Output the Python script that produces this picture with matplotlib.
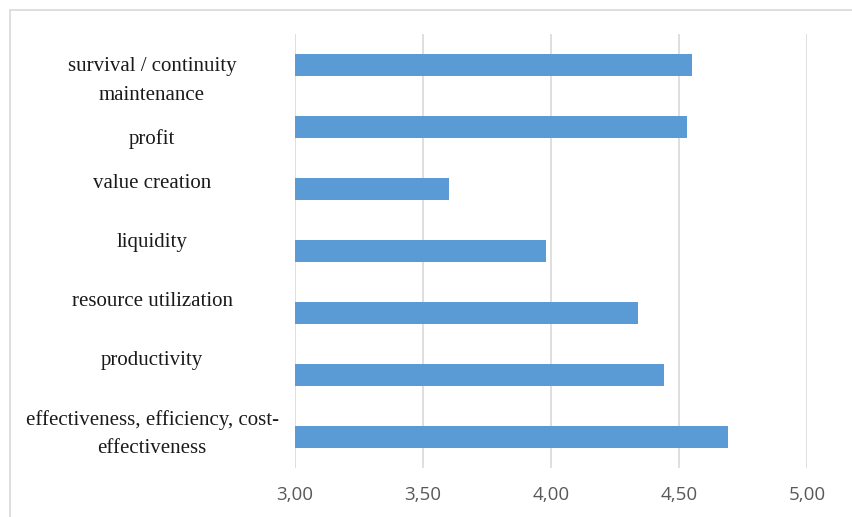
import matplotlib
matplotlib.use('Agg')
import matplotlib.pyplot as plt
import matplotlib.transforms as mtransforms
from matplotlib.patches import Rectangle

# data (top to bottom)
categories = ['survival / continuity\nmaintenance', 'profit', 'value creation', 'liquidity',
              'resource utilization', 'productivity', 'effectiveness, efficiency, cost-\neffectiveness']
values = [4.55, 4.53, 3.60, 3.98, 4.34, 4.44, 4.69]
x_ticks = [3.0, 3.5, 4.0, 4.5, 5.0]
x_tick_labels = ['3,00', '3,50', '4,00', '4,50', '5,00']

# label vertical offsets in pixels (label centre vs bar centre, positive = lower)
label_offsets = [16, 12, -6, -9, -12, -15, -3]

W, H = 852, 517
fig = plt.figure(figsize=(W / 100, H / 100), dpi=100)
ax = fig.add_axes([295 / W, (H - 468) / H, (807 - 295) / W, (468 - 34) / H])

pos = list(range(len(categories)))
ax.barh(pos, [v - 3.0 for v in values], left=3.0, height=0.34, color='#5B9BD5', zorder=3)
ax.set_ylim(len(categories) - 0.5, -0.5)
ax.set_xlim(3.0, 5.0)

ax.set_xticks(x_ticks)
ax.set_xticklabels(x_tick_labels, fontsize=13.5, color='#595959', family='Open Sans')
ax.tick_params(axis='x', length=0, pad=13)
ax.set_yticks([])
ax.grid(axis='x', color='#D9D9D9', linewidth=1.2, zorder=0)
for s in ax.spines.values():
    s.set_visible(False)

# category labels, centred left of the plot
trans = mtransforms.blended_transform_factory(fig.transFigure, ax.transData)
for i, (lab, off) in enumerate(zip(categories, label_offsets)):
    t = mtransforms.offset_copy(trans, fig=fig, y=-off * 0.72, units='points')
    ax.text(152 / W, i, lab, transform=t, ha='center', va='center', fontsize=15,
            family='Liberation Serif', color='#1a1a1a', linespacing=1.7, clip_on=False)

# light outer chart border
fig.patches.append(Rectangle((10 / W, -0.1), 1.0, (H - 10) / H + 0.1, transform=fig.transFigure,
                             fill=False, edgecolor='#D9D9D9', linewidth=1.2))

fig.savefig('out.png', dpi=100, facecolor='white')
